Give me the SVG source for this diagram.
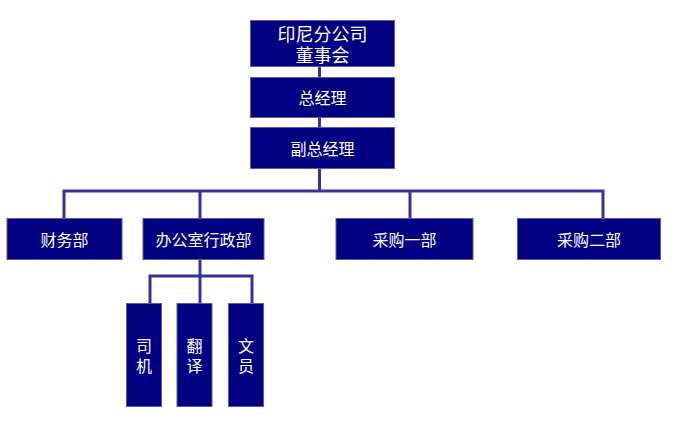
<svg xmlns="http://www.w3.org/2000/svg" width="690" height="431" viewBox="0 0 690 431">
<style>
.box{fill:#000080;stroke:#5a5aa8;stroke-width:1}
.t{fill:#ffffff;font-family:"Liberation Sans","Noto Sans CJK SC",sans-serif;font-size:16px;text-anchor:middle;dominant-baseline:central}
.big{font-size:18px}
.ln{fill:none;stroke:#333399;stroke-width:3}
</style>
<rect width="690" height="431" fill="#ffffff"/>
<g id="connectors">
<path class="ln" d="M319.5 67V77M319.5 118V127M319.5 168V191"/>
<path class="ln" d="M64 218V191H603V218M200 191V218M410 191V218"/>
<path class="ln" d="M200 260V276M150 303V276H252V303M200 276V303"/>
</g>
<g id="n-board"><rect class="box" x="250.5" y="20.5" width="144" height="46"/><text class="t big" x="322.5" y="34.5">印尼分公司</text><text class="t big" x="322.5" y="55.5">董事会</text></g>
<g id="n-gm"><rect class="box" x="250.5" y="77.5" width="144" height="40"/><text class="t" x="322.5" y="98">总经理</text></g>
<g id="n-dgm"><rect class="box" x="250.5" y="127.5" width="144" height="41"/><text class="t" x="322.5" y="149">副总经理</text></g>
<g id="n-finance"><rect class="box" x="7" y="218.5" width="115" height="41"/><text class="t" x="64.5" y="240">财务部</text></g>
<g id="n-admin"><rect class="box" x="143" y="218.5" width="121" height="41"/><text class="t" x="203.5" y="240">办公室行政部</text></g>
<g id="n-purchase1"><rect class="box" x="336" y="218.5" width="137" height="41"/><text class="t" x="404.5" y="240">采购一部</text></g>
<g id="n-purchase2"><rect class="box" x="517.5" y="218.5" width="143" height="41"/><text class="t" x="589" y="240">采购二部</text></g>
<g id="n-driver"><rect class="box" x="126.5" y="303.5" width="35" height="103"/><text class="t" x="144" y="346">司</text><text class="t" x="144" y="366">机</text></g>
<g id="n-translator"><rect class="box" x="177" y="303.5" width="35" height="103"/><text class="t" x="194.5" y="346">翻</text><text class="t" x="194.5" y="366">译</text></g>
<g id="n-clerk"><rect class="box" x="228.5" y="303.5" width="35" height="103"/><text class="t" x="246" y="346">文</text><text class="t" x="246" y="366">员</text></g>
</svg>
